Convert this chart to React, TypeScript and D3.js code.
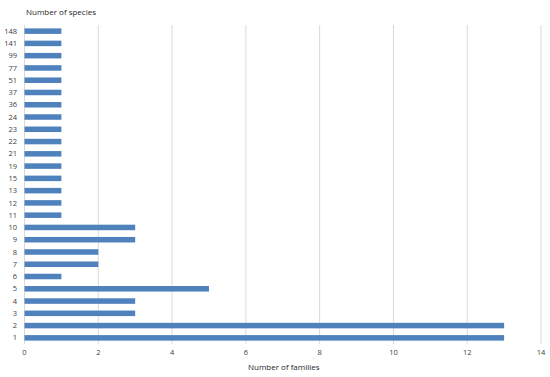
import React from 'react';
import * as d3 from 'd3';

const species = ['1', '2', '3', '4', '5', '6', '7', '8', '9', '10', '11', '12', '13', '15', '19', '21', '22', '23', '24', '36', '37', '51', '77', '99', '141', '148'];
const families = [13, 13, 3, 3, 5, 1, 2, 2, 3, 3, 1, 1, 1, 1, 1, 1, 1, 1, 1, 1, 1, 1, 1, 1, 1, 1];
const xTicks = [0, 2, 4, 6, 8, 10, 12, 14];

const App = () => {
  const width = 550;
  const height = 377;
  const margin = { top: 25, right: 9, bottom: 33, left: 24.5 };

  const x = d3.scaleLinear()
    .domain([0, 14])
    .range([margin.left, width - margin.right]);

  const y = d3.scaleBand()
    .domain(species)
    .range([height - margin.bottom, margin.top])
    .paddingInner(0.55)
    .paddingOuter(0.275);

  const font = 'Open Sans, Liberation Sans, sans-serif';

  return (
    <svg width={width} height={height} style={{ position: 'absolute', left: 0, top: 0, background: '#fff' }}>
      {/* grid */}
      {xTicks.map(t => (
        <line key={t} x1={x(t)} x2={x(t)} y1={margin.top} y2={height - margin.bottom}
          stroke="#d9d9d9" strokeWidth={1} />
      ))}
      {/* bars */}
      {species.map((s, i) => (
        <rect key={s} x={x(0)} y={y(s)} width={x(families[i]) - x(0)} height={y.bandwidth()} fill="#4f81bd" />
      ))}
      {/* y labels */}
      {species.map(s => (
        <text key={s} x={17} y={(y(s) as number) + y.bandwidth() / 2} dy="0.35em" textAnchor="end"
          fontSize={7.5} fontFamily={font} fill="#404040">{s}</text>
      ))}
      {/* x labels */}
      {xTicks.map(t => (
        <text key={t} x={x(t)} y={355} textAnchor="middle" fontSize={7.5} fontFamily={font} fill="#404040">{t}</text>
      ))}
      <text x={26} y={15} fontSize={8} fontFamily={font} fill="#262626">Number of species</text>
      <text x={248} y={370} fontSize={8} fontFamily={font} fill="#262626">Number of families</text>
    </svg>
  );
};

export default App;
